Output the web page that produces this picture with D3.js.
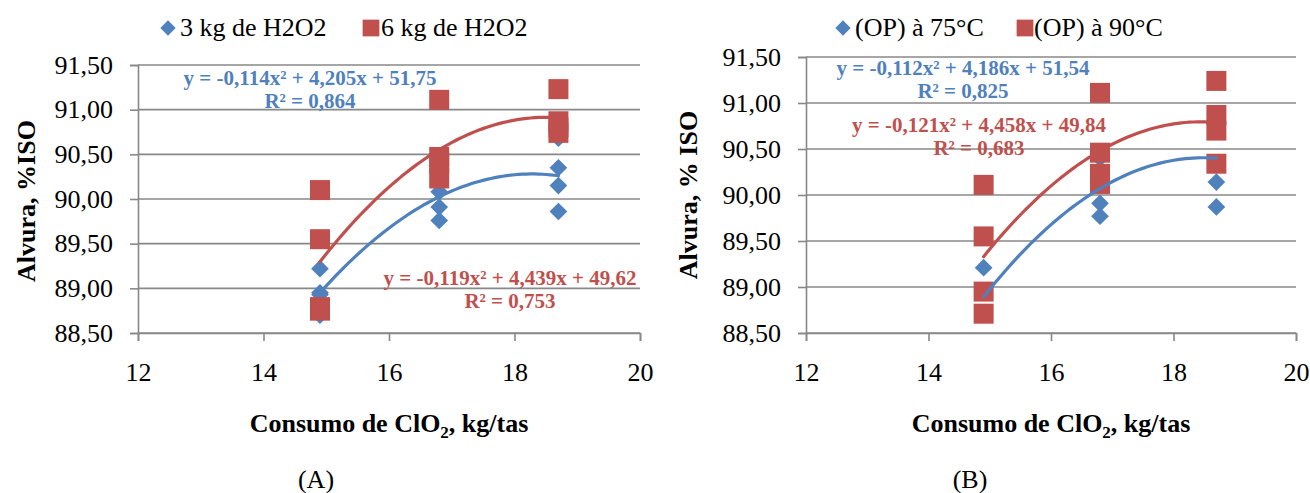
<!DOCTYPE html>
<html>
<head>
<meta charset="utf-8">
<script src="https://cdn.jsdelivr.net/npm/d3@7"></script>
<style>
  html, body { margin: 0; padding: 0; background: #fff; }
  svg { display: block; }
  text { font-family: "Liberation Serif", "Times New Roman", serif; }
</style>
</head>
<body>
<svg id="chart" width="1310" height="493"></svg>
<script>
// ---------- data ----------
const xTicks = [12, 14, 16, 18, 20];
const yTicks = [88.5, 89.0, 89.5, 90.0, 90.5, 91.0, 91.5];

// Panel A
const xA = [14.9, 16.8, 18.7];
const a3kg = [[89.22, 88.95, 88.93, 88.70], [90.35, 90.08, 89.91, 89.76], [90.68, 90.35, 90.15, 89.86]];
const a6kg = [[90.10, 89.55, 88.79, 88.75], [91.11, 90.47, 90.40, 90.23], [91.23, 90.87, 90.80, 90.74]];
const legendA = ["3 kg de H2O2", "6 kg de H2O2"];
const eqA = [["y = -0,114x² + 4,205x + 51,75", "R² = 0,864"], ["y = -0,119x² + 4,439x + 49,62", "R² = 0,753"]];

// Panel B
const xB = [14.9, 16.8, 18.7];
const b75 = [[89.21, 88.95, 88.71, 88.70], [90.40, 90.20, 89.91, 89.77], [90.85, 90.74, 90.14, 89.87]];
const b90 = [[90.11, 89.55, 88.95, 88.71], [91.11, 90.46, 90.23, 90.12], [91.24, 90.87, 90.70, 90.34]];
const legendB = ["(OP) à 75°C", "(OP) à 90°C"];
const eqB = [["y = -0,112x² + 4,186x + 51,54", "R² = 0,825"], ["y = -0,121x² + 4,458x + 49,84", "R² = 0,683"]];

const yTitles = ["Alvura, %ISO", "Alvura, % ISO"];
const panelLabels = ["(A)", "(B)"];

const BLUE = "#4F81BD", RED = "#C0504D", GRID = "#888888";

// ---------- helpers ----------
const fmt = v => d3.format(".2f")(v).replace(".", ",");

function flatten(xs, groups) {
  const pts = [];
  groups.forEach((g, i) => g.forEach(v => pts.push([xs[i], v])));
  return pts;
}

// quadratic least squares fit y = a x^2 + b x + c
function quadFit(pts) {
  let s0 = 0, s1 = 0, s2 = 0, s3 = 0, s4 = 0, t0 = 0, t1 = 0, t2 = 0;
  pts.forEach(([x, y]) => {
    s0 += 1; s1 += x; s2 += x * x; s3 += x ** 3; s4 += x ** 4;
    t0 += y; t1 += x * y; t2 += x * x * y;
  });
  const M = [[s4, s3, s2, t2], [s3, s2, s1, t1], [s2, s1, s0, t0]];
  for (let i = 0; i < 3; i++) {
    for (let k = i + 1; k < 3; k++) {
      const f = M[k][i] / M[i][i];
      for (let j = i; j < 4; j++) M[k][j] -= f * M[i][j];
    }
  }
  const r = [0, 0, 0];
  for (let i = 2; i >= 0; i--) {
    let s = M[i][3];
    for (let j = i + 1; j < 3; j++) s -= M[i][j] * r[j];
    r[i] = s / M[i][i];
  }
  return x => r[0] * x * x + r[1] * x + r[2];
}

const svg = d3.select("#chart");

function panel(cfg) {
  const g = svg.append("g");
  const x = d3.scaleLinear().domain([12, 20]).range([cfg.left, cfg.right]);
  const y = d3.scaleLinear().domain([88.5, 91.5]).range([cfg.bottom, cfg.top]);

  // grid
  g.append("g").selectAll("line").data(yTicks).join("line")
    .attr("x1", cfg.left).attr("x2", cfg.right)
    .attr("y1", d => y(d)).attr("y2", d => y(d))
    .attr("stroke", GRID).attr("stroke-width", 1.6);

  // y axis
  const ya = g.append("g").attr("transform", `translate(${cfg.left},0)`)
    .call(d3.axisLeft(y).tickValues(yTicks).tickFormat(fmt).tickSize(8).tickPadding(17));
  ya.select(".domain").attr("stroke", GRID).attr("stroke-width", 1.6);
  ya.selectAll(".tick line").attr("stroke", GRID).attr("stroke-width", 1.6);
  ya.selectAll(".tick text").attr("font-size", 26).attr("fill", "#000")
    .attr("font-family", "Liberation Serif");

  // x axis
  const xa = g.append("g").attr("transform", `translate(0,${cfg.bottom})`)
    .call(d3.axisBottom(x).tickValues(xTicks).tickFormat(d3.format("d")).tickSize(8).tickPadding(22));
  xa.select(".domain").attr("stroke", GRID).attr("stroke-width", 1.6);
  xa.selectAll(".tick line").attr("stroke", GRID).attr("stroke-width", 1.6);
  xa.selectAll(".tick text").attr("font-size", 26).attr("fill", "#000")
    .attr("font-family", "Liberation Serif");

  const ptsBlue = flatten(cfg.xs, cfg.blue);
  const ptsRed = flatten(cfg.xs, cfg.red);

  const diamond = d3.symbol().type(d3.symbolDiamond2).size(200);
  const square = d3.symbol().type(d3.symbolSquare).size(400);

  g.append("g").selectAll("path").data(ptsBlue).join("path")
    .attr("d", diamond)
    .attr("transform", d => `translate(${x(d[0])},${y(d[1])})`)
    .attr("fill", BLUE);
  g.append("g").selectAll("path").data(ptsRed).join("path")
    .attr("d", square)
    .attr("transform", d => `translate(${x(d[0])},${y(d[1])})`)
    .attr("fill", RED);

  // trend lines
  const xmin = d3.min(cfg.xs), xmax = d3.max(cfg.xs);
  const samples = d3.range(0, 61).map(i => xmin + (xmax - xmin) * i / 60);
  [[ptsRed, RED], [ptsBlue, BLUE]].forEach(([pts, col]) => {
    const f = quadFit(pts);
    g.append("path")
      .datum(samples.map(v => [v, f(v)]))
      .attr("d", d3.line().x(d => x(d[0])).y(d => y(d[1])))
      .attr("fill", "none").attr("stroke", col).attr("stroke-width", 3.2)
      .attr("stroke-linecap", "round");
  });

  // equations
  cfg.eqs.forEach((e, i) => {
    const col = i === 0 ? BLUE : RED;
    const p = cfg.eqPos[i];
    e.forEach((line, j) => {
      g.append("text").attr("x", p[0]).attr("y", p[1] + j * 23)
        .attr("text-anchor", "middle").attr("font-size", 21).attr("font-weight", "bold")
        .attr("fill", col).text(line);
    });
  });

  // legend
  g.append("path").attr("d", d3.symbol().type(d3.symbolDiamond2).size(150))
    .attr("transform", `translate(${cfg.legMarks[0]},28)`).attr("fill", BLUE);
  g.append("path").attr("d", d3.symbol().type(d3.symbolSquare).size(280))
    .attr("transform", `translate(${cfg.legMarks[1]},28)`).attr("fill", RED);
  cfg.legend.forEach((t, i) => {
    g.append("text").attr("x", cfg.legText[i]).attr("y", 36)
      .attr("font-size", 26).attr("fill", "#000").text(t);
  });

  // y title
  g.append("text")
    .attr("transform", `translate(${cfg.yTitleX},${cfg.yTitleY}) rotate(-90)`)
    .attr("text-anchor", "middle").attr("font-size", 26).attr("font-weight", "bold")
    .attr("fill", "#000").text(cfg.yTitle);

  // x title with subscript
  const xt = g.append("text")
    .attr("x", (cfg.left + cfg.right) / 2).attr("y", 432)
    .attr("text-anchor", "middle").attr("font-size", 26).attr("font-weight", "bold")
    .attr("fill", "#000");
  xt.append("tspan").text("Consumo de ClO");
  xt.append("tspan").attr("font-size", 17).attr("dy", 6).text("2");
  xt.append("tspan").attr("dy", -6).text(", kg/tas");

  // panel label
  g.append("text").attr("x", cfg.labelX).attr("y", 488)
    .attr("text-anchor", "middle").attr("font-size", 26).attr("fill", "#000")
    .text(cfg.label);
}

panel({
  left: 138, right: 640, top: 65, bottom: 333,
  xs: xA, blue: a3kg, red: a6kg,
  eqs: eqA, eqPos: [[310, 85], [510, 285]],
  legend: legendA, legMarks: [168, 371], legText: [180, 381],
  yTitle: yTitles[0], yTitleX: 35, yTitleY: 201,
  label: panelLabels[0], labelX: 316
});

panel({
  left: 806, right: 1296, top: 57, bottom: 333,
  xs: xB, blue: b75, red: b90,
  eqs: eqB, eqPos: [[963, 75], [979, 132]],
  legend: legendB, legMarks: [843, 1025], legText: [855, 1034],
  yTitle: yTitles[1], yTitleX: 697, yTitleY: 195,
  label: panelLabels[1], labelX: 970
});
</script>
</body>
</html>
